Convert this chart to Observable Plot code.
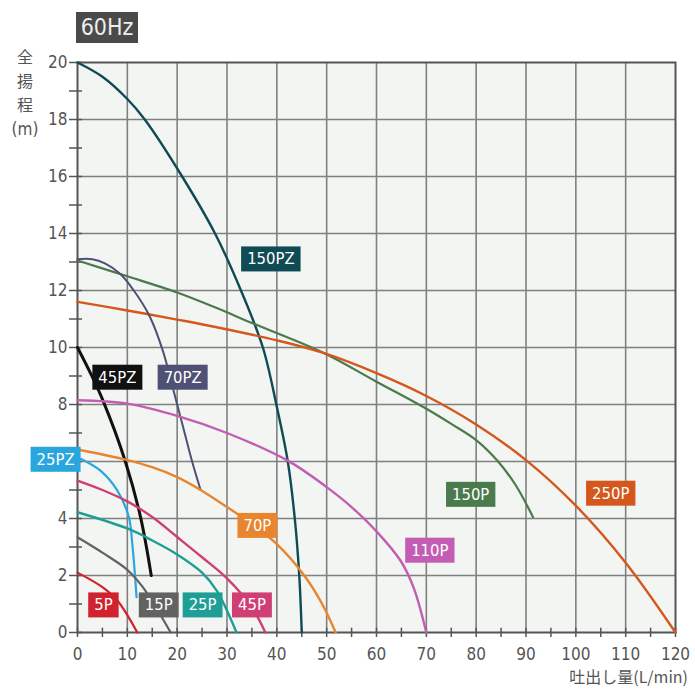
<!DOCTYPE html>
<html><head><meta charset="utf-8">
<script src="https://cdn.jsdelivr.net/npm/d3@7"></script>
<script src="https://cdn.jsdelivr.net/npm/@observablehq/plot@0.6"></script>
<style>
body{margin:0;background:#fff;}
#wrap{position:relative;width:695px;height:699px;font-family:"DejaVu Sans Condensed","Liberation Sans Narrow","DejaVu Sans",sans-serif;}
#wrap svg{position:absolute;left:0;top:0;}
.ov{position:absolute;z-index:2;}
#hz{left:76px;top:12px;width:62px;height:31px;background:#4a4a4a;color:#eee;font-size:23px;line-height:31px;text-align:center;}
.yc{left:9px;width:32px;text-align:center;color:#555;font-size:16px;line-height:16px;font-family:"Noto Sans CJK JP",sans-serif;}
.ym{font-family:"DejaVu Sans Condensed",sans-serif;font-size:17px;}
#xlab{right:7px;top:664px;color:#555;font-size:16px;font-family:"Noto Sans CJK JP",sans-serif;}
</style></head><body>
<div id="wrap">
<div id="hz" class="ov">60Hz</div>
<div class="ov yc" style="top:48px">全</div>
<div class="ov yc" style="top:72px">揚</div>
<div class="ov yc" style="top:96px">程</div>
<div class="ov yc ym" style="top:121px">(m)</div>
<div id="xlab" class="ov">吐出し量(L/min)</div>
</div>
<script>
// pump curves: [flow L/min, head m]
const p150PZ = [[0,20],[5,19.5],[10,18.72],[13.5,18],[21,16],[27.6,14],[32.8,12],[37.2,10],[39.9,8],[42.2,6],[43.6,4],[44.5,2],[45,0]];
const p150P  = [[0,13.05],[10,12.5],[20,11.93],[27.7,11.4],[35.4,10.83],[49.5,9.8],[60,8.8],[70,7.85],[75,7.32],[80,6.75],[84.4,6.0],[88,5.15],[91.4,4.05]];
const p250P  = [[0,11.6],[10,11.3],[20,10.98],[27.7,10.72],[40,10.25],[49.5,9.8],[60,9.1],[70,8.3],[80,7.3],[90,6.05],[100,4.45],[110,2.45],[120,0]];
const p70PZ  = [[0,13.1],[3,13.1],[5.5,12.95],[8.6,12.58],[11.3,12],[14.5,11.09],[17.1,9.9],[20,8],[21.5,7],[23,6],[24.7,5.0]];
const p45PZ  = [[0,10],[2.6,9.1],[5.2,8.1],[9.6,6],[12.65,4.05],[14.8,2]];
const p25PZ  = [[0,6.15],[4.6,5.68],[8,4.98],[10.3,4.05],[11,3.1],[11.85,1.24]];
const p110P  = [[0,8.15],[10,8.03],[20,7.6],[30,7.0],[42.2,6.03],[50,5.1],[55,4.4],[60,3.55],[64.9,2.5],[67.5,1.55],[70,0]];
const p70P   = [[0,6.42],[10,6.05],[15,5.8],[20,5.45],[24.7,5.0],[30,4.4],[35,3.8],[40,3.1],[45.5,2.0],[49.1,1.0],[51.8,0]];
const p45P   = [[0,5.33],[5,5.0],[10,4.6],[15,4.05],[20,3.35],[25,2.64],[30,1.9],[35,0.88],[37.7,0]];
const p25P   = [[0,4.22],[10,3.65],[15,3.23],[20,2.74],[25,2.1],[28,1.45],[31.9,0]];
const p15P   = [[0,3.34],[5,2.8],[10,2.2],[13,1.62],[18.7,0]];
const p5P    = [[0,2.1],[5,1.59],[8,1.12],[12,0]];

const pumpNames  = ["150PZ","150P","250P","70PZ","45PZ","25PZ","110P","70P","45P","25P","15P","5P"];
const pumpCurves = [p150PZ,p150P,p250P,p70PZ,p45PZ,p25PZ,p110P,p70P,p45P,p25P,p15P,p5P];
const pumpColors = ["#0f4a55","#4b7a4c","#d4581c","#4e5074","#111111","#2aa6df","#c35db4","#e8852e","#cf3f73","#1f9e95","#626262","#d1222f"];
const lineWidths = [2.4,2.2,2.4,2,3,2.2,2.4,2.4,2.4,2.4,2.2,2.2];

// label positions (data coords)
const labelNames = ["150PZ","45PZ","70PZ","25PZ","70P","110P","150P","250P","5P","15P","25P","45P"];
const labelX     = [38.8,8.0,21.1,-4.4,36.1,70.7,78.9,107,5.2,16.3,25.1,35];
const labelY     = [13.1,8.95,8.95,6.07,3.75,2.88,4.84,4.88,0.96,0.96,0.96,0.96];

const xTicks = d3.range(0,121,10);
const xMinor = d3.range(0,121,5);
const yTicks = d3.range(0,21,2);
const yMinor = d3.range(0,21,1);
const yHidden = [6]; // covered by the 25PZ label in the original

const colorOf = n => pumpColors[pumpNames.indexOf(n)];
const rows = pumpNames.flatMap((n,i)=>pumpCurves[i].map(([q,h])=>({pump:n,q,h})));
const labels = labelNames.map((n,i)=>({name:n,x:labelX[i],y:labelY[i],color:colorOf(n)}));

const font = "DejaVu Sans Condensed, Liberation Sans Narrow, DejaVu Sans, sans-serif";
const chart = Plot.plot({
  width:695, height:699,
  marginLeft:77, marginRight:20, marginTop:62, marginBottom:67,
  style:{background:"transparent", fontFamily:font, color:"#555"},
  x:{domain:[0,120]},
  y:{domain:[0,20]},
  marks:[
    Plot.frame({fill:"#f2f5f2", stroke:null}),
    Plot.gridX(xTicks.slice(1,-1),{stroke:"#808080", strokeOpacity:1, strokeWidth:1.6}),
    Plot.gridY(yTicks.slice(1,-1),{stroke:"#808080", strokeOpacity:1, strokeWidth:1.6}),
    Plot.frame({stroke:"#555", strokeWidth:2}),
    Plot.axisY(yMinor,{tickSize:8, tickPadding:2, fontSize:17, fill:"#555", stroke:"#555", strokeWidth:1.5, tickFormat:d=>(d%2===0 && !yHidden.includes(d))?d:"", label:null}),
    Plot.axisX(xMinor,{tickSize:5, tickPadding:10, fontSize:17, fill:"#555", stroke:"#555", strokeWidth:1.5, tickFormat:d=>d%10===0?d:"", label:null}),
    Plot.ruleY(yMinor,{x1:0, x2:1, stroke:"#555", strokeWidth:1.5}),
    Plot.ruleX(xMinor,{y1:0, y2:0.15, stroke:"#555", strokeWidth:1.5}),
    ...pumpNames.map((n,i)=>Plot.line(rows.filter(r=>r.pump===n),{x:"q", y:"h", stroke:pumpColors[i], strokeWidth:lineWidths[i], curve:"catmull-rom"})),
    Plot.text(labels,{x:"x", y:"y", text:"name", fill:"white", fontSize:16.5, className:"lbl"})
  ]
});
const wrap = document.getElementById("wrap");
wrap.insertBefore(chart, wrap.firstChild);

// colored boxes behind labels
const g = chart.querySelector("g.lbl");
if (g) {
  const texts = Array.from(g.querySelectorAll("text"));
  texts.forEach((t,i)=>{
    const b = t.getBBox();
    const r = document.createElementNS("http://www.w3.org/2000/svg","rect");
    r.setAttribute("x", b.x-6); r.setAttribute("y", b.y-3);
    r.setAttribute("width", b.width+12); r.setAttribute("height", b.height+6);
    r.setAttribute("fill", labels[i].color);
    const tr = t.getAttribute("transform");
    if (tr) r.setAttribute("transform", tr);
    g.insertBefore(r, g.firstChild);
  });
}
</script>
</body></html>
